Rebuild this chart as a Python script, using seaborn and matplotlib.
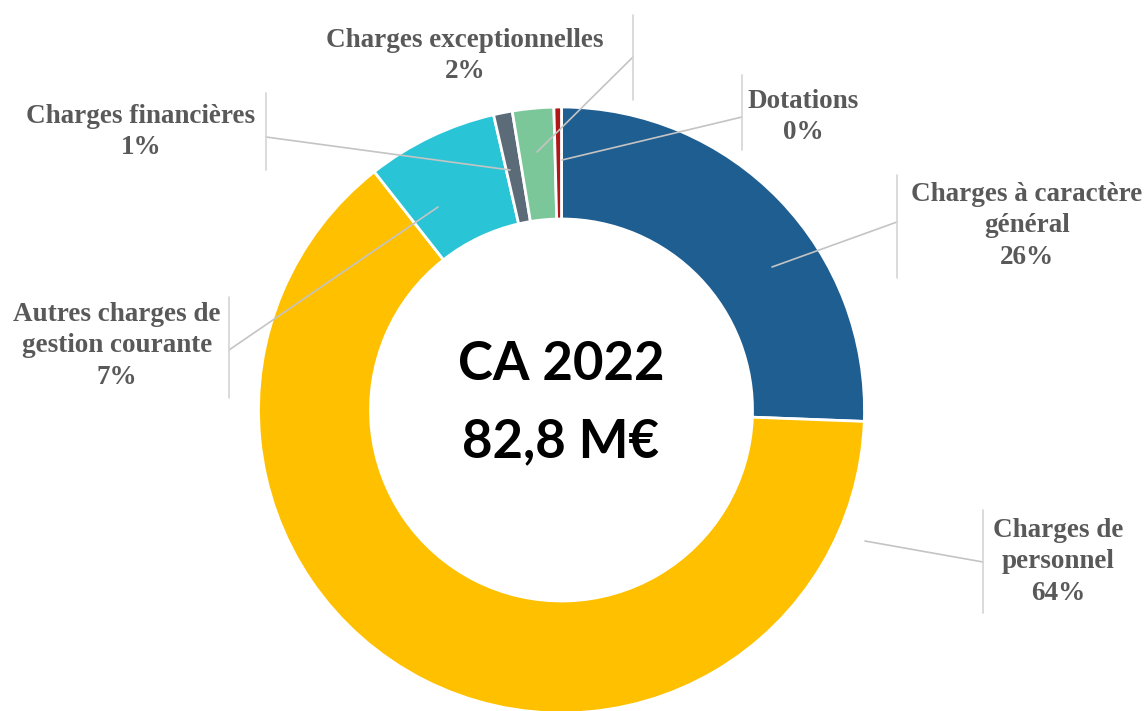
import numpy as np
import seaborn as sns
import matplotlib.pyplot as plt

# data (shares of CA 2022)
categories = ['Charges à caractère\ngénéral', 'Charges de\npersonnel', 'Autres charges de\ngestion courante',
              'Charges financières', 'Charges exceptionnelles', 'Dotations']
shares = [25.6, 63.8, 7.0, 1.0, 2.2, 0.4]
colors = ['#1f5e91', '#ffc000', '#29c5d6', '#5c6b78', '#7cc79a', '#b01818']
center_lines = ['CA 2022', '82,8 M€']

sns.set_theme(style='white')
plt.rcParams['font.family'] = ['Liberation Serif', 'DejaVu Sans']

fig = plt.figure(figsize=(11.47, 7.11), dpi=100)
ax = fig.add_axes([0, 0, 1, 1])

# axes in pixel units, y pointing down -> counterclock in data = clockwise on screen
ax.pie(shares, colors=colors, startangle=-90, counterclock=True,
       center=(561.5, 410), radius=303,
       wedgeprops=dict(width=112, edgecolor='white', linewidth=2))
ax.set_xlim(0, 1147)
ax.set_ylim(711, 0)
ax.set_aspect('auto')
ax.axis('off')

# label layout: text pos, bar x, bar y-range, leader start, leader end
layout = [
    ((1027, 226), 897, (175, 278), (772, 267), (897, 222)),
    ((1058, 562), 983, (510, 613), (865, 541), (983, 562)),
    ((117, 346), 229, (297, 398), (438, 207), (229, 350)),
    ((141, 132), 266, (93, 170), (510, 170), (266, 137)),
    ((465, 56), 633, (15, 100), (537, 152), (633, 57)),
    ((803, 117), 742, (75, 150), (562, 160), (742, 117)),
]

pct = np.array(shares) / sum(shares) * 100
for cat, p, (tpos, bx, (by0, by1), p0, p1) in zip(categories, pct, layout):
    ax.plot([p0[0], p1[0]], [p0[1], p1[1]], color='#c4c4c4', lw=1.2, zorder=5)
    ax.plot([bx, bx], [by0, by1], color='#d4d4d4', lw=1.2, zorder=5)
    ax.text(tpos[0], tpos[1], f'{cat}\n{round(p):.0f}%', ha='center', va='center',
            fontsize=19.5, fontweight='bold', color='#595959', linespacing=1.35, zorder=6)

# centre text
ax.text(561, 364, center_lines[0], ha='center', va='center', fontsize=38,
        fontweight='bold', family=['Lato', 'DejaVu Sans'], color='black')
ax.text(561, 442, center_lines[1], ha='center', va='center', fontsize=38,
        fontweight='bold', family=['Lato', 'DejaVu Sans'], color='black')

fig.savefig('out.png', dpi=100)
